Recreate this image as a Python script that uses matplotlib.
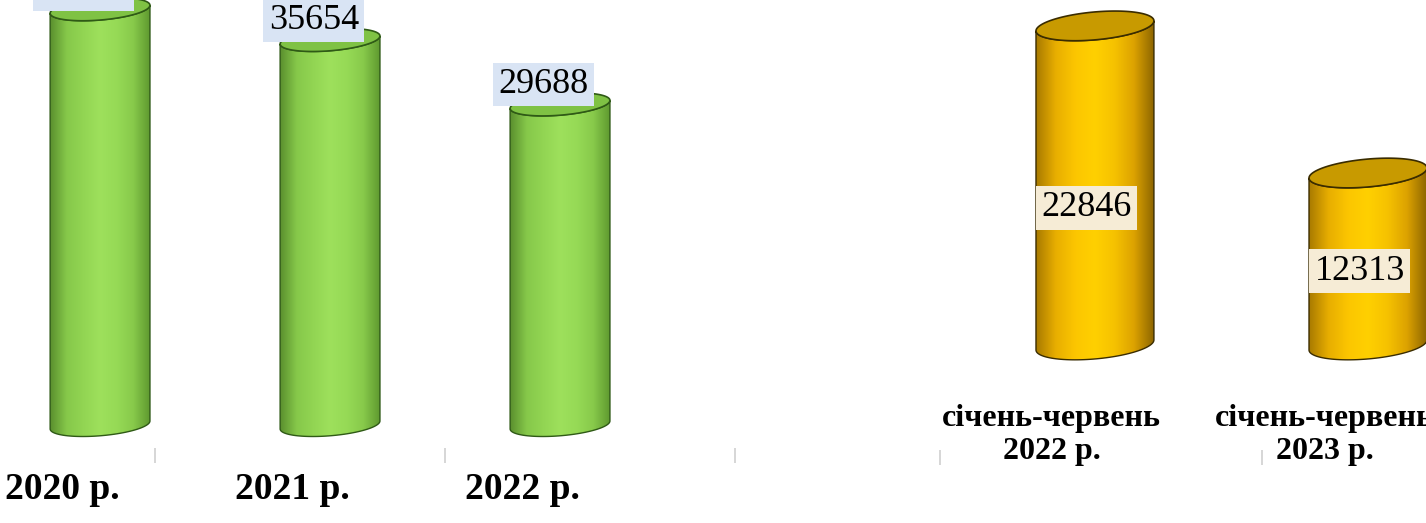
import numpy as np
import matplotlib
matplotlib.use("Agg")
import matplotlib.pyplot as plt
from matplotlib.colors import LinearSegmentedColormap
from matplotlib.patches import Polygon

plt.rcParams['font.family'] = ['Liberation Serif', 'DejaVu Serif']

# data
years = ['2020 р.', '2021 р.', '2022 р.']
year_values = [38500, 35654, 29688]
halves = ['січень-червень\n2022 р.', 'січень-червень\n2023 р.']
half_values = [22846, 12313]

green_cmap = LinearSegmentedColormap.from_list(
    'g', ['#5a8f2e', '#86c84a', '#92d553', '#9ee05c', '#96da56', '#88ca4b', '#5f9a30'])
gold_cmap = LinearSegmentedColormap.from_list(
    'y', ['#a87a00', '#e8ae00', '#fcc600', '#ffd000', '#f6c200', '#dca200', '#8e6600'])


def cylinder(ax, cx, hw, h, eh, tilt, cmap, top_color, edge):
    t1 = np.linspace(np.pi, 2 * np.pi, 60)
    t2 = np.linspace(2 * np.pi, np.pi, 60)
    bx = cx + hw * np.cos(t1)
    by = eh * np.sin(t1) + tilt * np.cos(t1)
    tx = cx + hw * np.cos(t2)
    ty = h + eh * np.sin(t2) + tilt * np.cos(t2)
    body = Polygon(np.column_stack([np.r_[bx, tx], np.r_[by, ty]]),
                   closed=True, facecolor='none', edgecolor=edge, lw=1.0, zorder=3)
    ax.add_patch(body)
    grad = np.linspace(0, 1, 256).reshape(1, -1)
    im = ax.imshow(grad, cmap=cmap, aspect='auto', zorder=2,
                   extent=[cx - hw, cx + hw, -eh - abs(tilt), h + eh + abs(tilt)])
    im.set_clip_path(body)
    t = np.linspace(0, 2 * np.pi, 120)
    top = Polygon(np.column_stack([cx + hw * np.cos(t),
                                   h + eh * np.sin(t) + tilt * np.cos(t)]),
                  closed=True, facecolor=top_color, edgecolor=edge, lw=1.2, zorder=4)
    ax.add_patch(top)


fig = plt.figure(figsize=(14.26, 5.23), dpi=100)

# left panel: full years
ax1 = fig.add_axes([0, 0, 0.5224, 1])
ax1.axis('off')
for i, v in enumerate(year_values):
    cylinder(ax1, i, 0.217, v, 1000, 370, green_cmap, '#7fc244', '#2f5a16')
    ax1.text(i - 0.07, v + 1850, str(v), ha='center', va='center', fontsize=26,
             zorder=5, bbox=dict(boxstyle='square,pad=0.15', fc='#d9e4f4', ec='none'))
    ax1.text(i - 0.165, -6000, years[i], ha='center', va='center', fontsize=27,
             fontweight='bold', zorder=5)
ax1.vlines([0.239, 1.5, 2.761], -3519, -2130, color='#d0d0d0', lw=1.2)
ax1.set_xlim(-0.435, 2.804)
ax1.set_ylim(-9076, 39357)

# right panel: January-June
ax2 = fig.add_axes([0.5224, 0, 0.4776, 1])
ax2.axis('off')
for i, v in enumerate(half_values):
    cylinder(ax2, i, 0.216, v, 1000, 360, gold_cmap, '#c89a00', '#3a2c00')
    ax2.text(i - 0.03, v * 0.43, str(v), ha='center', va='center', fontsize=26,
             zorder=5, bbox=dict(boxstyle='square,pad=0.15', fc='#f6ecd6', ec='none'))
    ax2.text(i - 0.158, -6450, halves[i], ha='center', va='center', fontsize=23,
             fontweight='bold', linespacing=1.2, zorder=5)
ax2.vlines([-0.568, 0.612], -8592, -7518, color='#d0d0d0', lw=1.2)
ax2.set_xlim(-1.282, 1.2125)
ax2.set_ylim(-12745, 24700)

fig.savefig('out.png', dpi=100)
